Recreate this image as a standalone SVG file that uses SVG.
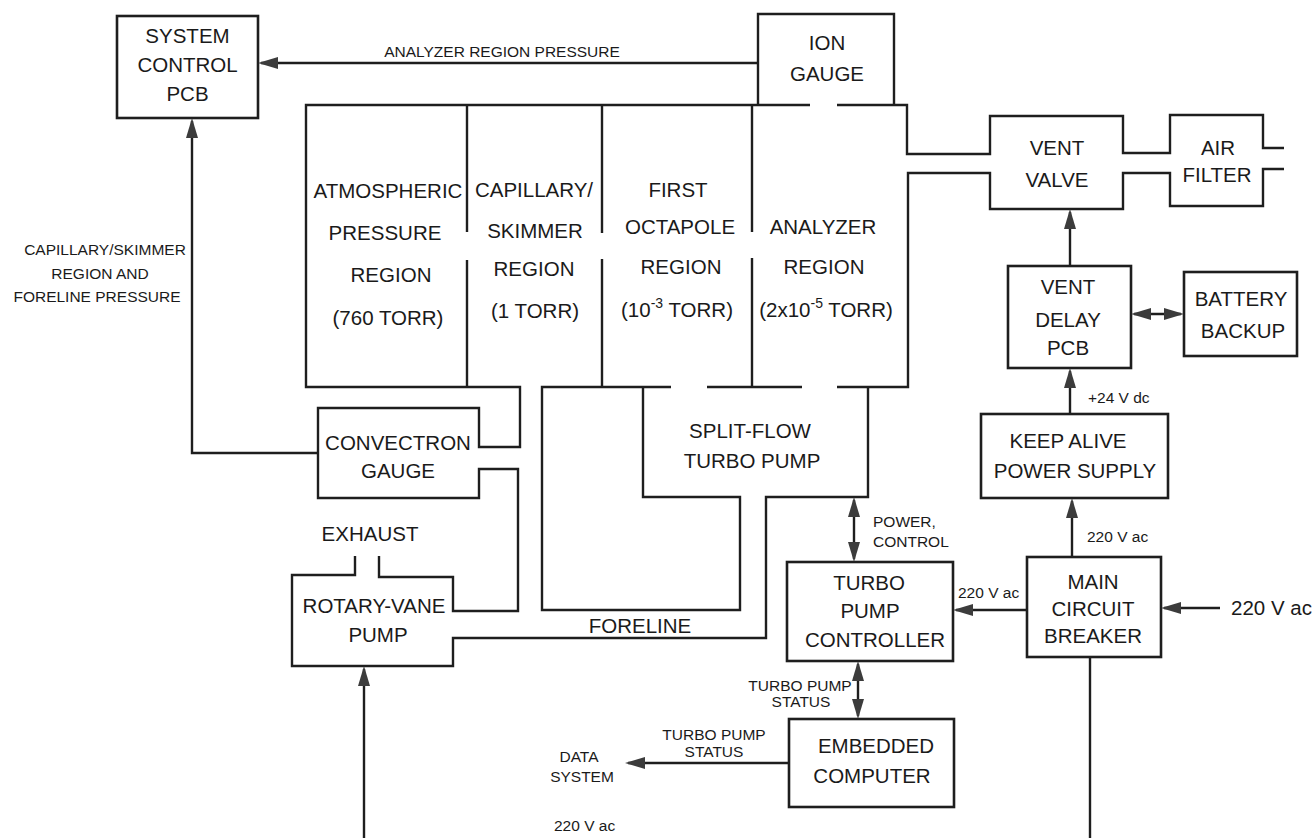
<svg xmlns="http://www.w3.org/2000/svg" width="1313" height="838" viewBox="0 0 1313 838">
  <style>
    .ln { fill: none; stroke: #1e1e1e; stroke-width: 2.4; stroke-linejoin: miter; stroke-linecap: butt; }
    .box { fill: none; stroke: #1e1e1e; stroke-width: 2.6; }
    .arr { fill: none; stroke: #1e1e1e; stroke-width: 2.4; marker-end: url(#ah); }
    .dbl { fill: none; stroke: #1e1e1e; stroke-width: 2.4; marker-start: url(#ah); marker-end: url(#ah); }
    .t { font-family: "Liberation Sans", Arial, Helvetica, sans-serif; font-size: 20.5px; fill: #1a1a1a; text-anchor: middle; }
    .s { font-size: 15.5px; }
    .l { text-anchor: start; }
  </style>
  <defs>
    <marker id="ah" viewBox="0 0 20 12" refX="17" refY="6" markerWidth="20" markerHeight="12" markerUnits="userSpaceOnUse" orient="auto-start-reverse">
      <path d="M0,0 L20,6 L0,12 z" fill="#3c3c3c"/>
    </marker>
  </defs>
  <rect width="1313" height="838" fill="#ffffff"/>

  <!-- vacuum plumbing: manifold, pump lines, vent path -->
  <g id="vacuum-plumbing">
    <!-- rotary-vane pump outline, foreline and turbo pump right side -->
    <path class="ln" d="M355,556 V575 H292 V666 H453 V638 H766 V497 H868 V387"/>
    <!-- exhaust, convectron gauge loop, chamber left wall and roof -->
    <path class="ln" d="M379,556 V577 H453 V611 H518 V469 H479 V498 H318 V408 H479 V447 H520 V387 H306 V105 H810"/>
    <!-- roof beyond ion gauge port, vent line to air filter -->
    <path class="ln" d="M837,105 H907 V154 H990 V116 H1123 V153 H1170 V115 H1263 V148 H1284"/>
    <path class="ln" d="M1284,169 H1263 V206 H1170 V173 H1123 V209 H990 V173 H908 V387 H837"/>
    <!-- chamber floor segments -->
    <path class="ln" d="M707,387 H802"/>
    <path class="ln" d="M643,387 V497 H740 V610 H542 V387 H671"/>
    <!-- region partitions with skimmer/lens openings -->
    <path class="ln" d="M467,105 V232 M467,260 V387 M602,105 V233 M602,259 V387 M752,105 V232 M752,258 V387"/>
  </g>

  <g id="region-atmospheric">
    <text class="t" x="388" y="198">ATMOSPHERIC</text>
    <text class="t" x="385" y="240">PRESSURE</text>
    <text class="t" x="391" y="282">REGION</text>
    <text class="t" x="388" y="325">(760 TORR)</text>
  </g>
  <g id="region-capillary">
    <text class="t" x="534" y="197">CAPILLARY/</text>
    <text class="t" x="535" y="238">SKIMMER</text>
    <text class="t" x="534" y="276">REGION</text>
    <text class="t" x="535" y="318">(1 TORR)</text>
  </g>
  <g id="region-octapole">
    <text class="t" x="678" y="197">FIRST</text>
    <text class="t" x="680" y="234">OCTAPOLE</text>
    <text class="t" x="681" y="274">REGION</text>
    <text class="t" x="677" y="317">(10<tspan font-size="14" dy="-9">-3</tspan><tspan dy="9"> TORR)</tspan></text>
  </g>
  <g id="region-analyzer">
    <text class="t" x="823" y="234">ANALYZER</text>
    <text class="t" x="824" y="274">REGION</text>
    <text class="t" x="826" y="317">(2x10<tspan font-size="14" dy="-9">-5</tspan><tspan dy="9"> TORR)</tspan></text>
  </g>

  <g id="system-control-pcb">
    <rect class="box" x="117" y="16" width="141" height="102"/>
    <text class="t" x="187.5" y="43">SYSTEM</text>
    <text class="t" x="187.5" y="72">CONTROL</text>
    <text class="t" x="187.5" y="101">PCB</text>
  </g>

  <g id="ion-gauge">
    <path class="ln" d="M758,105 V14 H894 V105"/>
    <text class="t" x="827" y="50">ION</text>
    <text class="t" x="827" y="81">GAUGE</text>
  </g>

  <g id="vent-valve">
    <text class="t" x="1057" y="155">VENT</text>
    <text class="t" x="1057" y="187">VALVE</text>
  </g>
  <g id="air-filter">
    <text class="t" x="1218" y="155">AIR</text>
    <text class="t" x="1217" y="182">FILTER</text>
  </g>

  <g id="vent-delay-pcb">
    <rect class="box" x="1008" y="266" width="123" height="102"/>
    <text class="t" x="1068" y="294">VENT</text>
    <text class="t" x="1068" y="327">DELAY</text>
    <text class="t" x="1068" y="355">PCB</text>
  </g>

  <g id="battery-backup">
    <rect class="box" x="1184" y="272" width="113" height="84"/>
    <text class="t" x="1241" y="306">BATTERY</text>
    <text class="t" x="1243" y="338">BACKUP</text>
  </g>

  <g id="keep-alive-power-supply">
    <rect class="box" x="981" y="414" width="187" height="84"/>
    <text class="t" x="1068" y="448">KEEP ALIVE</text>
    <text class="t" x="1075" y="478">POWER SUPPLY</text>
  </g>

  <g id="main-circuit-breaker">
    <rect class="box" x="1027" y="557" width="134" height="100"/>
    <text class="t" x="1093" y="589">MAIN</text>
    <text class="t" x="1093" y="616">CIRCUIT</text>
    <text class="t" x="1093" y="643">BREAKER</text>
  </g>

  <g id="turbo-pump-controller">
    <rect class="box" x="787" y="562" width="166" height="99"/>
    <text class="t" x="869" y="590">TURBO</text>
    <text class="t" x="870" y="618">PUMP</text>
    <text class="t" x="875" y="647">CONTROLLER</text>
  </g>

  <g id="embedded-computer">
    <rect class="box" x="789" y="719" width="165" height="88"/>
    <text class="t" x="876" y="753">EMBEDDED</text>
    <text class="t" x="872" y="783">COMPUTER</text>
  </g>

  <g id="split-flow-turbo-pump">
    <text class="t" x="750" y="438">SPLIT-FLOW</text>
    <text class="t" x="752" y="468">TURBO PUMP</text>
  </g>

  <g id="convectron-gauge">
    <text class="t" x="398" y="450">CONVECTRON</text>
    <text class="t" x="398" y="478">GAUGE</text>
  </g>

  <g id="rotary-vane-pump">
    <text class="t" x="370" y="541">EXHAUST</text>
    <text class="t" x="374" y="613">ROTARY-VANE</text>
    <text class="t" x="378" y="642">PUMP</text>
    <text class="t" x="640" y="633">FORELINE</text>
  </g>

  <g id="data-system">
    <text class="t s" x="579" y="762">DATA</text>
    <text class="t s" x="582" y="782">SYSTEM</text>
  </g>

  <!-- signal and power connections -->
  <g id="connectors">
    <path class="arr" d="M758,63 H261"/>
    <path class="arr" d="M318,453 H192 V121"/>
    <path class="arr" d="M1070,266 V212"/>
    <path class="arr" d="M1070,414 V371"/>
    <path class="arr" d="M1072,557 V501"/>
    <path class="dbl" d="M1134,314 H1181"/>
    <path class="dbl" d="M854,500 V559"/>
    <path class="dbl" d="M858,664 V716"/>
    <path class="arr" d="M1027,610 H956"/>
    <path class="arr" d="M1220,608 H1164"/>
    <path class="arr" d="M789,763 H628"/>
    <path class="arr" d="M364,838 V669"/>
    <path class="ln" d="M1090,657 V838"/>

    <text class="t s" x="502" y="57">ANALYZER REGION PRESSURE</text>
    <text class="t s" x="105" y="255">CAPILLARY/SKIMMER</text>
    <text class="t s" x="100" y="279">REGION AND</text>
    <text class="t s" x="97" y="302">FORELINE PRESSURE</text>
    <text class="t s l" x="1088" y="403">+24 V dc</text>
    <text class="t s l" x="1087" y="542">220 V ac</text>
    <text class="t s l" x="873" y="527">POWER,</text>
    <text class="t s l" x="873" y="547">CONTROL</text>
    <text class="t s l" x="958" y="598">220 V ac</text>
    <text class="t l" x="1231" y="615" font-size="20">220 V ac</text>
    <text class="t s" x="800" y="691">TURBO PUMP</text>
    <text class="t s" x="801" y="707">STATUS</text>
    <text class="t s" x="714" y="740">TURBO PUMP</text>
    <text class="t s" x="714" y="757">STATUS</text>
    <text class="t s l" x="554" y="831">220 V ac</text>
  </g>
</svg>
